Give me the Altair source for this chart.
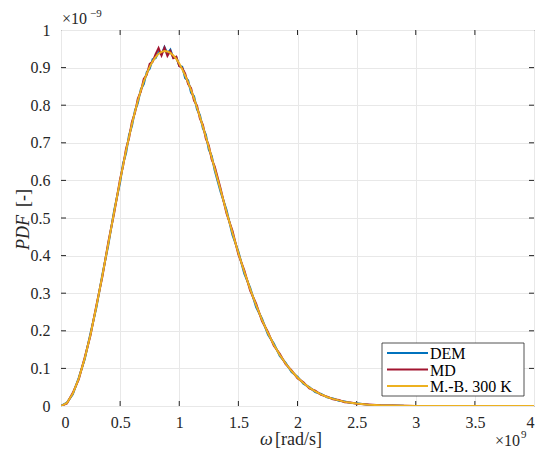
import altair as alt
import pandas as pd

# ---- data (omega in 1e9 rad/s, PDF in 1e-9) ----
omega = [0, 0.05, 0.1, 0.15, 0.2, 0.25, 0.3, 0.35, 0.4, 0.45,
         0.5, 0.525, 0.55, 0.575, 0.6, 0.625, 0.65, 0.675, 0.7, 0.725, 0.75, 0.775, 0.8, 0.825,
         0.85, 0.875, 0.9, 0.925, 0.95, 0.975, 1.0, 1.025, 1.05, 1.075, 1.1, 1.125, 1.15, 1.175,
         1.2, 1.225, 1.25, 1.275, 1.3,
         1.35, 1.4, 1.45, 1.5, 1.55, 1.6, 1.65, 1.7, 1.75, 1.8, 1.85, 1.9, 1.95, 2.0, 2.05, 2.1,
         2.15, 2.2, 2.25, 2.3, 2.35, 2.4, 2.45, 2.5,
         2.6, 2.7, 2.8, 2.9, 3.0, 3.2, 3.5, 3.8, 4.0]

pdf_mb = [0, 0.008, 0.033, 0.073, 0.126, 0.191, 0.266, 0.347, 0.432, 0.517,
          0.600, 0.640, 0.679, 0.715, 0.750, 0.782, 0.812, 0.839, 0.863, 0.884, 0.902, 0.917, 0.928, 0.937,
          0.942, 0.944, 0.943, 0.939, 0.932, 0.923, 0.911, 0.896, 0.879, 0.861, 0.840, 0.818, 0.794, 0.769,
          0.743, 0.716, 0.688, 0.660, 0.631,
          0.574, 0.516, 0.461, 0.407, 0.357, 0.311, 0.268, 0.229, 0.194, 0.163, 0.136, 0.113, 0.093, 0.076,
          0.061, 0.049, 0.039, 0.031, 0.024, 0.019, 0.015, 0.011, 0.0085, 0.0064,
          0.0036, 0.0019, 0.0010, 0.0005, 0.0002, 0.0001, 0, 0, 0]

pdf_dem = [0, 0.009, 0.031, 0.075, 0.124, 0.194, 0.263, 0.350, 0.428, 0.521,
           0.595, 0.645, 0.672, 0.720, 0.745, 0.785, 0.806, 0.842, 0.856, 0.888, 0.897, 0.922, 0.925, 0.941,
           0.935, 0.955, 0.938, 0.948, 0.926, 0.928, 0.905, 0.902, 0.872, 0.866, 0.833, 0.824, 0.789, 0.774,
           0.738, 0.722, 0.682, 0.665, 0.626,
           0.569, 0.521, 0.455, 0.411, 0.352, 0.314, 0.263, 0.232, 0.190, 0.166, 0.133, 0.115, 0.090, 0.078,
           0.059, 0.050, 0.037, 0.032, 0.023, 0.020, 0.014, 0.012, 0.008, 0.007,
           0.0035, 0.002, 0.0012, 0.0004, 0.0003, 0.0001, 0, 0, 0]

pdf_md = [0, 0.007, 0.035, 0.071, 0.128, 0.189, 0.269, 0.344, 0.436, 0.514,
          0.604, 0.638, 0.684, 0.712, 0.756, 0.779, 0.818, 0.836, 0.870, 0.881, 0.910, 0.915, 0.936, 0.952,
          0.932, 0.953, 0.931, 0.944, 0.925, 0.929, 0.904, 0.899, 0.884, 0.856, 0.845, 0.812, 0.799, 0.764,
          0.748, 0.711, 0.693, 0.655, 0.637,
          0.578, 0.512, 0.466, 0.403, 0.361, 0.307, 0.272, 0.226, 0.197, 0.160, 0.139, 0.111, 0.095, 0.074,
          0.063, 0.047, 0.041, 0.030, 0.025, 0.018, 0.016, 0.010, 0.009, 0.006,
          0.004, 0.0017, 0.0011, 0.0006, 0.0002, 0.0001, 0, 0, 0]

series_names = ["DEM", "MD", "M.-B. 300 K"]
series_colors = ["#0072BD", "#A2142F", "#EDB120"]
x_ticks = [0, 0.5, 1, 1.5, 2, 2.5, 3, 3.5, 4]
y_ticks = [0, 0.1, 0.2, 0.3, 0.4, 0.5, 0.6, 0.7, 0.8, 0.9, 1]

W, H = 473, 376
FONT = "Liberation Serif"
DARK = "#262626"

frames = []
for name, vals in zip(series_names, [pdf_dem, pdf_md, pdf_mb]):
    frames.append(pd.DataFrame({"omega": omega, "pdf": vals, "series": name}))

xs = alt.Scale(domain=[0, 4], nice=False, zero=False)
ys = alt.Scale(domain=[0, 1], nice=False, zero=False)
cs = alt.Scale(domain=series_names, range=series_colors)

xaxis = alt.Axis(values=x_ticks, format="~g", title=None, grid=True, ticks=False, domain=False,
                 labelPadding=8)
yaxis = alt.Axis(values=y_ticks, format="~g", title=None, grid=True, ticks=False, domain=False,
                 labelPadding=11)

layers = []
for f in frames:
    layers.append(alt.Chart(f).mark_line(strokeWidth=2, clip=True).encode(
        x=alt.X("omega:Q", scale=xs, axis=xaxis),
        y=alt.Y("pdf:Q", scale=ys, axis=yaxis),
        color=alt.Color("series:N", scale=cs, legend=None),
    ))

# inward ticks (MATLAB style)
xt = pd.DataFrame({"omega": x_ticks[1:-1]})
yt = pd.DataFrame({"pdf": y_ticks[1:-1]})
tl = 5
tick_layers = [
    alt.Chart(xt).mark_rule(color=DARK, strokeWidth=1).encode(
        x=alt.X("omega:Q", scale=xs, axis=xaxis), y=alt.value(H), y2=alt.value(H - tl)),
    alt.Chart(xt).mark_rule(color=DARK, strokeWidth=1).encode(
        x=alt.X("omega:Q", scale=xs, axis=xaxis), y=alt.value(0), y2=alt.value(tl)),
    alt.Chart(yt).mark_rule(color=DARK, strokeWidth=1).encode(
        y=alt.Y("pdf:Q", scale=ys, axis=yaxis), x=alt.value(0), x2=alt.value(tl)),
    alt.Chart(yt).mark_rule(color=DARK, strokeWidth=1).encode(
        y=alt.Y("pdf:Q", scale=ys, axis=yaxis), x=alt.value(W - tl), x2=alt.value(W)),
]

def txt(s, x, y, size=16, italic=False, align="left", baseline="alphabetic", angle=0, color=DARK):
    kw = dict(text=s, font=FONT, fontSize=size, color=color, align=align, baseline=baseline)
    if italic:
        kw["fontStyle"] = "italic"
    if angle:
        kw["angle"] = angle
    return alt.Chart(pd.DataFrame({"a": [0]})).mark_text(**kw).encode(
        x=alt.value(x), y=alt.value(y))

texts = [
    txt("×10", 1, -6, 16),
    txt("−9", 29, -13, 11),
    txt("×10", W - 14, H + 40, 16, align="right"),
    txt("9", W - 13, H + 32, 11),
    txt("ω", 199, H + 39, 18, italic=True),
    txt("[rad/s]", 214, H + 39, 18),
    txt("PDF", -32, 220, 18, italic=True, angle=270),
    txt("[-]", -32, 177, 18, angle=270),
]

# legend box (MATLAB style, inside bottom-right)
LX1, LY1 = W - 10, H - 10
LX0, LY0 = LX1 - 142, LY1 - 53
legend_bg = alt.Chart(pd.DataFrame({"a": [0]})).mark_rect(
    fill="white", stroke=DARK, strokeWidth=0.8).encode(
    x=alt.value(LX0), x2=alt.value(LX1), y=alt.value(LY0), y2=alt.value(LY1))
legend_items = []
for i, (name, col) in enumerate(zip(series_names, series_colors)):
    yy = LY0 + 10 + i * 16.5
    legend_items.append(alt.Chart(pd.DataFrame({"a": [0]})).mark_rule(
        color=col, strokeWidth=2.2).encode(x=alt.value(LX0 + 5), x2=alt.value(LX0 + 46), y=alt.value(yy)))
    legend_items.append(txt(name, LX0 + 48, yy + 1, 16, baseline="middle", color="black"))

chart = alt.layer(*tick_layers, *layers, *texts, legend_bg, *legend_items).properties(
    width=W, height=H,
    autosize=alt.AutoSizeParams(type="none"),
    padding={"left": 53, "top": 22, "right": 4, "bottom": 43},
).configure_view(stroke=DARK, strokeWidth=1).configure_axis(
    labelFont=FONT, labelFontSize=16, labelColor=DARK,
    gridColor="#e8e8e8", gridWidth=1,
)

chart.save("out.html", embed_options={"renderer": "svg", "actions": False})
